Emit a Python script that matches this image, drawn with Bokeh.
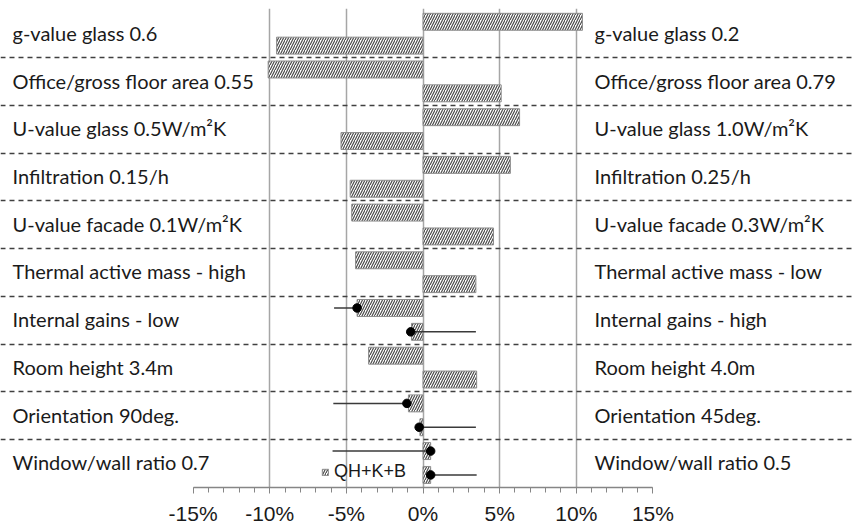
import numpy as np
from bokeh.plotting import figure
from bokeh.models import (LinearAxis, FixedTicker, Grid, PrintfTickFormatter,
                          Legend, LegendItem, Range1d, ColumnDataSource)
from bokeh.core.properties import value
from bokeh.embed import file_html
from bokeh.resources import INLINE

# ---------------- data ----------------
categories = ["g-value glass", "Office/gross floor area", "U-value glass", "Infiltration",
              "U-value facade", "Thermal active mass", "Internal gains", "Room height",
              "Orientation", "Window/wall ratio"]
left_labels = ["g-value glass 0.6", "Office/gross floor area 0.55", "U-value glass 0.5W/m\u00b2K",
               "Infiltration 0.15/h", "U-value facade 0.1W/m\u00b2K", "Thermal active mass - high",
               "Internal gains - low", "Room height 3.4m", "Orientation 90deg.",
               "Window/wall ratio 0.7"]
right_labels = ["g-value glass 0.2", "Office/gross floor area 0.79", "U-value glass 1.0W/m\u00b2K",
                "Infiltration 0.25/h", "U-value facade 0.3W/m\u00b2K", "Thermal active mass - low",
                "Internal gains - high", "Room height 4.0m", "Orientation 45deg.",
                "Window/wall ratio 0.5"]
upper_vals = [10.4, -10.1, 6.3, 5.7, -4.65, -4.4, -4.3, -3.55, -0.95, 0.5]
lower_vals = [-9.55, 5.1, -5.35, -4.75, 4.6, 3.45, -0.75, 3.5, -0.2, 0.5]

err_categories = ["Internal gains", "Orientation", "Window/wall ratio"]
err_upper_point = [-4.3, -1.05, 0.5]
err_upper_end = [-5.8, -5.85, -5.9]
err_lower_point = [-0.8, -0.25, 0.5]
err_lower_end = [3.45, 3.45, 3.5]

x_ticks = [-15, -10, -5, 0, 5, 10, 15]
x_minor_ticks = list(range(-15, 16))
grid_ticks = [-10, -5, 0, 5, 10]
legend_label = "QH+K+B"

# ---------------- layout ----------------
W, H = 852, 528
PX_PER = 15.33          # pixels per 1 %
ZERO_PX = 422.5         # px of 0 %
BAND_PX = 47.7
FRAME_TOP = 8
FRAME_BOTTOM = 487
FRAME_H = FRAME_BOTTOM - FRAME_TOP
x_start = -ZERO_PX / PX_PER
x_end = x_start + W / PX_PER
n = len(categories)
y_end = n + (9.6 - FRAME_TOP) / BAND_PX
y_start = y_end - FRAME_H / BAND_PX

band_top = np.array([n - i for i in range(n)], dtype=float)
y_upper = band_top - 0.245
y_lower = band_top - 0.745
y_mid = band_top - 0.5
bar_h = 0.355

p = figure(width=W, height=H, output_backend="svg", toolbar_location=None,
           x_range=Range1d(x_start, x_end), y_range=Range1d(y_start, y_end),
           x_axis_location=None, y_axis_location=None,
           min_border_left=0, min_border_right=0, min_border_top=FRAME_TOP,
           min_border_bottom=H - FRAME_BOTTOM)
p.outline_line_color = None
p.xgrid.visible = False
p.ygrid.visible = False
p.background_fill_color = "white"

vgrid = Grid(dimension=0, ticker=FixedTicker(ticks=grid_ticks),
             grid_line_color="#a6a6a6", grid_line_width=1.5)
hgrid = Grid(dimension=1, ticker=FixedTicker(ticks=list(range(1, n))),
             grid_line_color="#404040", grid_line_width=1.3, grid_line_dash="5 4")
p.add_layout(vgrid)
p.add_layout(hgrid)

bar_style = dict(fill_color="white", line_color="#8c8c8c", line_width=1,
                 hatch_pattern="/", hatch_color="#4a4a4a", hatch_scale=5, hatch_weight=1.2)
src_u = ColumnDataSource(dict(y=y_upper, v=upper_vals))
src_l = ColumnDataSource(dict(y=y_lower, v=lower_vals))
r_u = p.hbar(y="y", left=0, right="v", height=bar_h, source=src_u, **bar_style)
r_l = p.hbar(y="y", left=0, right="v", height=bar_h, source=src_l, **bar_style)

# error lines and points
idx = [categories.index(c) for c in err_categories]
ey_u = y_upper[idx]
ey_l = y_lower[idx]
p.segment(x0=err_upper_end, y0=ey_u, x1=err_upper_point, y1=ey_u, line_color="#3a3a3a", line_width=1.5)
p.segment(x0=err_lower_point, y0=ey_l, x1=err_lower_end, y1=ey_l, line_color="#3a3a3a", line_width=1.5)
p.scatter(x=err_upper_point, y=ey_u, size=8.5, color="black")
p.scatter(x=err_lower_point, y=ey_l, size=8.5, color="black")

# labels
lab_font = value("Lato")
p.text(x=[x_start] * n, y=y_mid, text=left_labels, x_offset=12, y_offset=-1,
       text_font=lab_font, text_font_size="20px", text_color="#1a1a1a",
       text_align="left", text_baseline="middle")
p.text(x=[x_start + 594 / PX_PER] * n, y=y_mid, text=right_labels, y_offset=-1,
       text_font=lab_font, text_font_size="20px", text_color="#1a1a1a",
       text_align="left", text_baseline="middle")

# axis
ax = LinearAxis(bounds=(x_ticks[0], x_ticks[-1]),
                ticker=FixedTicker(ticks=x_ticks, minor_ticks=x_minor_ticks),
                formatter=PrintfTickFormatter(format="%d%%"))
ax.axis_line_color = "#868686"
ax.axis_line_width = 1.5
ax.major_tick_line_color = "#868686"
ax.minor_tick_line_color = "#868686"
ax.major_tick_out = 6
ax.major_tick_in = 0
ax.minor_tick_out = 5
ax.minor_tick_in = 0
ax.major_label_standoff = 8
ax.major_label_text_font = "Liberation Sans"
ax.major_label_text_font_size = "21px"
ax.major_label_text_color = "#1a1a1a"
p.add_layout(ax, "below")

legend = Legend(items=[LegendItem(label=legend_label, renderers=[r_u])],
                location=(321, 5), glyph_width=8, glyph_height=8, label_standoff=5,
                padding=0, margin=0, spacing=0, border_line_color=None,
                background_fill_alpha=0, label_text_font="Liberation Sans",
                label_text_font_size="18px", label_text_color="#1a1a1a")
p.add_layout(legend)

open("out.html", "w").write(file_html(p, INLINE))
